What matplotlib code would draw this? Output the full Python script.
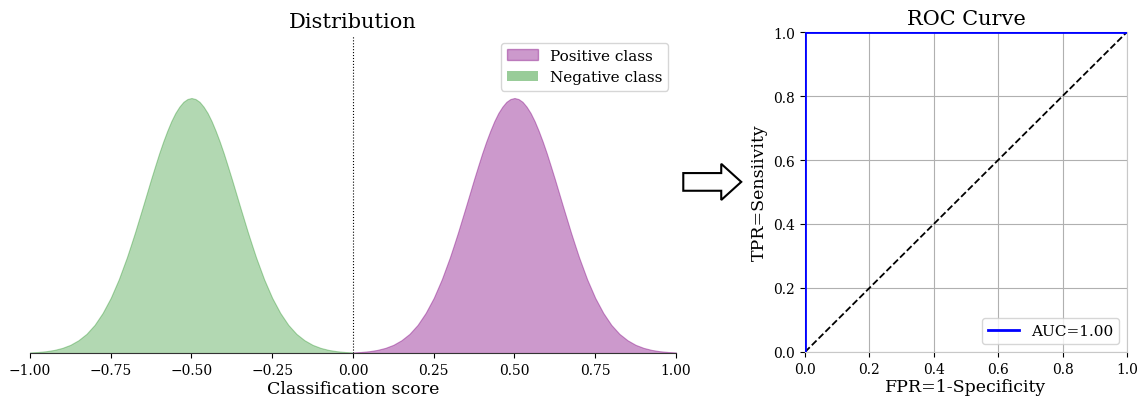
import numpy as np
import matplotlib
matplotlib.use('Agg')
import matplotlib.pyplot as plt
from matplotlib.patches import Patch, FancyArrow

offsets = [0.0, 0.0125, 0.025, 0.0375, 0.05, 0.0625, 0.075, 0.0875, 0.1, 0.1125, 0.125,
           0.1375, 0.15, 0.1625, 0.175, 0.1875, 0.2, 0.225, 0.25,
           0.275, 0.3, 0.325, 0.35, 0.375, 0.4, 0.425, 0.45, 0.475, 0.5]
heights = [1.000, 0.996, 0.985, 0.966, 0.941, 0.909, 0.871, 0.829, 0.783, 0.733, 0.682,
           0.629, 0.576, 0.524, 0.472, 0.423, 0.375, 0.289, 0.216,
           0.157, 0.110, 0.075, 0.050, 0.032, 0.020, 0.012, 0.007, 0.004, 0.002]

neg_center = -0.5
pos_center = 0.5

# ROC points
fpr = [0.0, 0.0, 1.0]
tpr = [0.0, 1.0, 1.0]
auc_value = 1.00

plt.rcParams['font.family'] = 'DejaVu Serif'

fig = plt.figure(figsize=(11.43, 4.02), dpi=100)

# --- Distribution ---
ax1 = fig.add_axes([0.0262, 0.1194, 0.5652, 0.791])

off = np.array(offsets)
h = np.array(heights)
neg_x = np.concatenate([neg_center - off[::-1], neg_center + off[1:]])
neg_y = np.concatenate([h[::-1], h[1:]])
pos_x = np.concatenate([pos_center - off[::-1], pos_center + off[1:]])
pos_y = np.concatenate([h[::-1], h[1:]])

ax1.fill_between(pos_x, 0, pos_y, color='purple', alpha=0.4, linewidth=0.8)
ax1.fill_between(neg_x, 0, neg_y, color='green', alpha=0.3, linewidth=0.8)
ax1.axvline(0, color='black', linestyle=':', linewidth=0.8)

ax1.set_xlim(-1, 1)
ax1.set_ylim(0, 1.247)
ax1.set_xticks([-1.0, -0.75, -0.5, -0.25, 0.0, 0.25, 0.5, 0.75, 1.0])
ax1.set_xticklabels(['\u22121.00', '\u22120.75', '\u22120.50', '\u22120.25', '0.00',
                     '0.25', '0.50', '0.75', '1.00'])
ax1.tick_params(axis='x', labelsize=10)
ax1.set_yticks([])
for s in ['left', 'top', 'right']:
    ax1.spines[s].set_visible(False)
ax1.spines['bottom'].set_color('#333333')
ax1.set_xlabel('Classification score', fontsize=12.5, labelpad=2)
ax1.set_title('Distribution', fontsize=15)

handles = [Patch(facecolor='purple', edgecolor='purple', alpha=0.4),
           Patch(facecolor='green', edgecolor='none', alpha=0.4)]
ax1.legend(handles, ['Positive class', 'Negative class'], loc='upper right', fontsize=11)

# --- Arrow between the panels ---
fig.patches.append(FancyArrow(0.5978, 0.545, 0.0507, 0.0, width=0.044, head_width=0.09,
                              head_length=0.0175, length_includes_head=True,
                              transform=fig.transFigure, facecolor='white',
                              edgecolor='black', linewidth=1.5))

# --- ROC Curve ---
ax2 = fig.add_axes([0.7043, 0.1219, 0.2817, 0.796])
ax2.plot(fpr, tpr, color='blue', linewidth=2, label=f'AUC={auc_value:.2f}', zorder=3)
ax2.plot([0, 1], [0, 1], color='black', linestyle='--', linewidth=1.3)
ax2.set_xlim(0, 1)
ax2.set_ylim(0, 1)
ax2.set_xticks(np.arange(0, 1.01, 0.2))
ax2.set_yticks(np.arange(0, 1.01, 0.2))
ax2.tick_params(labelsize=10)
ax2.grid(True, color='#b0b0b0', linewidth=0.8)
ax2.set_axisbelow(True)
for s in ax2.spines.values():
    s.set_color('#c8c8c8')
ax2.set_xlabel('FPR=1-Specificity', fontsize=12.5, labelpad=2)
ax2.set_ylabel('TPR=Sensiivity', fontsize=12.5)
ax2.set_title('ROC Curve', fontsize=15)
ax2.legend(loc='lower right', fontsize=11)

fig.savefig('out.png', dpi=100)
